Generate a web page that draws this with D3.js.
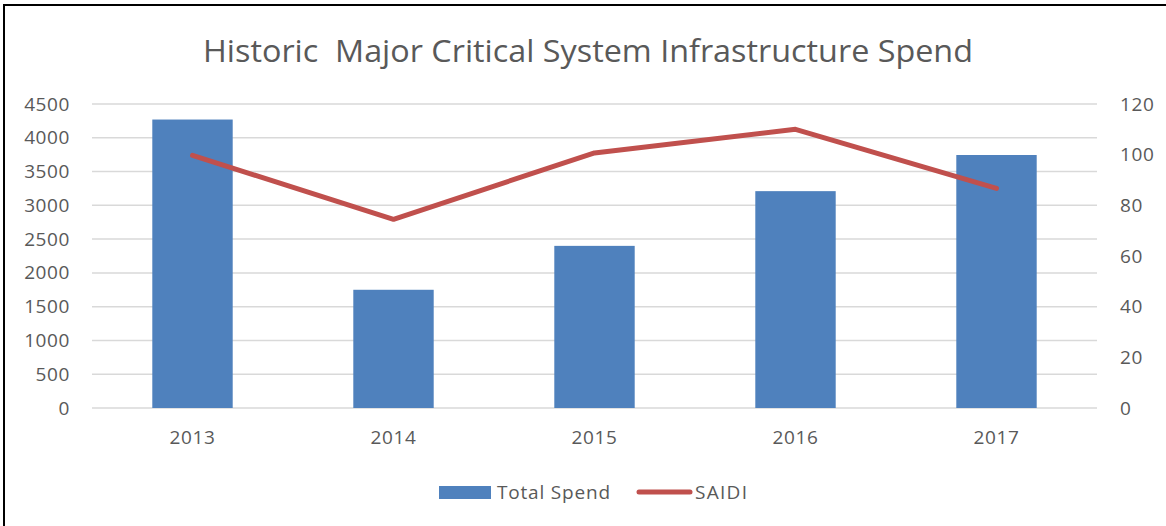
<!DOCTYPE html>
<html>
<head>
<meta charset="utf-8">
<script src="https://cdn.jsdelivr.net/npm/d3@7"></script>
<style>
  body { margin: 0; background: #fff; }
  text { font-family: "Open Sans", sans-serif; fill: #595959; }
</style>
</head>
<body>
<div id="chart"></div>
<script>
// chart data
var years = ["2013", "2014", "2015", "2016", "2017"];
var totalSpend = [4270, 1750, 2400, 3210, 3745];
var saidi = [99.7, 74.5, 100.7, 110, 86.7];
var leftTicks = [0, 500, 1000, 1500, 2000, 2500, 3000, 3500, 4000, 4500];
var rightTicks = [0, 20, 40, 60, 80, 100, 120];

(function(){
    var W = 1166, H = 526;
    var plot = { left: 92, right: 1097, top: 104, bottom: 408 };

    var svg = d3.select("#chart").append("svg")
        .attr("width", W)
        .attr("height", H);

    // frame
    svg.append("rect")
        .attr("x", 4).attr("y", 5)
        .attr("width", W + 10).attr("height", H + 10)
        .attr("fill", "none")
        .attr("stroke", "#000")
        .attr("stroke-width", 2);

    var x = d3.scaleBand()
        .domain(years)
        .range([plot.left, plot.right])
        .paddingInner(0.6)
        .paddingOuter(0.3);

    var yL = d3.scaleLinear().domain([0, 4500]).range([plot.bottom, plot.top]);
    var yR = d3.scaleLinear().domain([0, 120]).range([plot.bottom, plot.top]);

    // gridlines
    svg.append("g")
        .selectAll("line")
        .data(leftTicks)
        .enter()
        .append("line")
        .attr("x1", plot.left)
        .attr("x2", plot.right)
        .attr("y1", function(d){ return yL(d); })
        .attr("y2", function(d){ return yL(d); })
        .attr("stroke", "#d9d9d9")
        .attr("stroke-width", 1.5);

    // left axis
    var leftAxis = svg.append("g")
        .attr("transform", "translate(" + (plot.left - 22) + ",0)")
        .call(d3.axisLeft(yL).tickValues(leftTicks).tickFormat(d3.format("d")).tickSize(0).tickPadding(0));
    leftAxis.select(".domain").remove();

    // right axis
    var rightAxis = svg.append("g")
        .attr("transform", "translate(" + (plot.right + 23) + ",0)")
        .call(d3.axisRight(yR).tickValues(rightTicks).tickFormat(d3.format("d")).tickSize(0).tickPadding(0));
    rightAxis.select(".domain").remove();

    // bottom axis
    var bottomAxis = svg.append("g")
        .attr("transform", "translate(0," + (plot.bottom + 22) + ")")
        .call(d3.axisBottom(x).tickSize(0).tickPadding(0));
    bottomAxis.select(".domain").remove();

    svg.selectAll(".tick text")
        .attr("font-family", "Open Sans")
        .attr("font-size", "19px")
        .attr("letter-spacing", "0.6px")
        .attr("fill", "#595959");

    // bars
    svg.append("g")
        .selectAll("rect")
        .data(totalSpend)
        .enter()
        .append("rect")
        .attr("x", function(d, i){ return x(years[i]); })
        .attr("y", function(d){ return yL(d); })
        .attr("width", x.bandwidth())
        .attr("height", function(d){ return yL(0) - yL(d); })
        .attr("fill", "#4f81bd");

    // SAIDI line
    var line = d3.line()
        .x(function(d, i){ return x(years[i]) + x.bandwidth() / 2; })
        .y(function(d){ return yR(d); });

    svg.append("path")
        .datum(saidi)
        .attr("d", line)
        .attr("fill", "none")
        .attr("stroke", "#c0504d")
        .attr("stroke-width", 5)
        .attr("stroke-linecap", "round")
        .attr("stroke-linejoin", "round");

    // title
    svg.append("text")
        .attr("x", 588)
        .attr("y", 62)
        .attr("text-anchor", "middle")
        .attr("font-size", "31px")
        .attr("textLength", 770)
        .attr("lengthAdjust", "spacingAndGlyphs")
        .style("white-space", "pre")
        .text("Historic  Major Critical System Infrastructure Spend");

    // legend
    var legend = svg.append("g");
    legend.append("rect")
        .attr("x", 439).attr("y", 486)
        .attr("width", 52).attr("height", 13)
        .attr("fill", "#4f81bd");
    legend.append("text")
        .attr("x", 497).attr("y", 499)
        .attr("font-size", "19px")
        .attr("textLength", 113)
        .text("Total Spend");
    legend.append("line")
        .attr("x1", 639).attr("x2", 690)
        .attr("y1", 492).attr("y2", 492)
        .attr("stroke", "#c0504d")
        .attr("stroke-width", 5)
        .attr("stroke-linecap", "round");
    legend.append("text")
        .attr("x", 695).attr("y", 499)
        .attr("font-size", "19px")
        .attr("textLength", 52)
        .text("SAIDI");
})();
</script>
</body>
</html>
